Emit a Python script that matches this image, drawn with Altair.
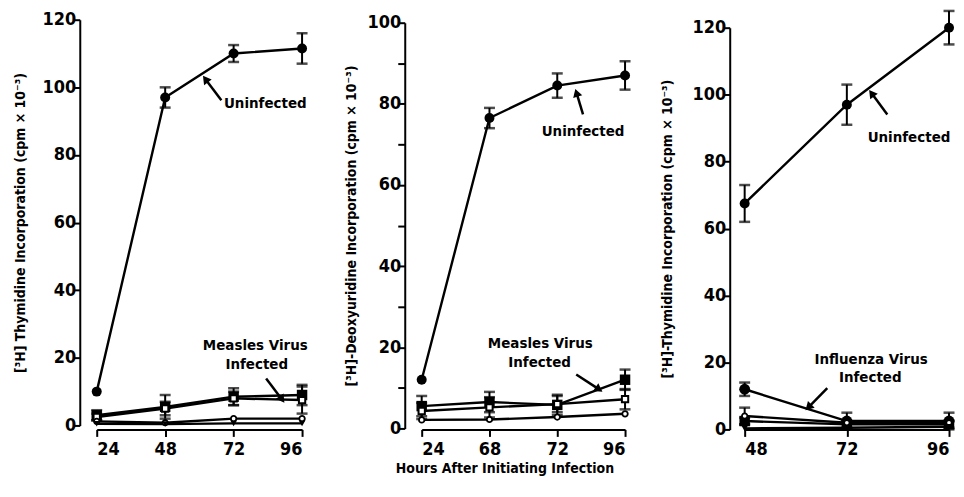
import altair as alt
import pandas as pd

LABEL_FONT = "DejaVu Sans Condensed"
TITLE_FONT = "DejaVu Sans Condensed"

# ---------------- data ----------------
# Panel A: [3H] thymidine, measles
a_hours = [24, 48, 72, 96]
a_uninf = [10, 97, 110, 111.5]
a_uninf_err = [0, 3, 2.5, 4.5]
a_meas_fsq = [3, 5.5, 8.5, 9]
a_meas_fsq_err = [1.5, 3.5, 2.5, 3]
a_meas_osq = [2.5, 5, 8, 7.5]
a_meas_osq_err = [1, 2, 2, 4]
a_meas_oci = [1.2, 0.8, 2, 2]
a_meas_tri = [0.5, 0.4, 0.6, 0.6]

# Panel B: [3H] deoxyuridine, measles (x categories equally spaced)
b_labels = ["24", "68", "72", "96"]
b_uninf = [12, 76.5, 84.5, 87]
b_uninf_err = [0, 2.5, 3, 3.5]
b_meas_fsq = [5.5, 6.5, 5.8, 12]
b_meas_fsq_err = [2.5, 2.5, 2.5, 2.5]
b_meas_osq = [4.3, 5.2, 6, 7.2]
b_meas_osq_err = [2, 2.5, 2, 2.5]
b_meas_oci = [2.1, 2.2, 2.8, 3.6]

# Panel C: [3H] thymidine, influenza
c_hours = [48, 72, 96]
c_uninf = [67.5, 97, 120]
c_uninf_err = [5.5, 6, 5]
c_flu_fci = [12, 2.5, 2.5]
c_flu_fci_err = [2, 2.5, 2.5]
c_flu_oci = [4, 2, 2]
c_flu_oci_err = [2.5, 0, 0]
c_flu_fsq = [2.5, 1.5, 1.5]
c_flu_fsq_err = [1, 1, 1]
c_flu_tri = [0.3, 0.5, 0.8]


def frame(xs, series):
    rows = []
    for key, ys, errs in series:
        for i, (x, y) in enumerate(zip(xs, ys)):
            e = errs[i] if errs else 0
            rows.append({"x": x, "s": key, "y": y, "err": e})
    return pd.DataFrame(rows)


dfA = frame(a_hours, [("uninf", a_uninf, a_uninf_err), ("fsq", a_meas_fsq, a_meas_fsq_err),
                      ("osq", a_meas_osq, a_meas_osq_err), ("oci", a_meas_oci, None),
                      ("tri", a_meas_tri, None)])
dfB = frame(list(range(len(b_labels))), [("uninf", b_uninf, b_uninf_err), ("fsq", b_meas_fsq, b_meas_fsq_err),
                                         ("osq", b_meas_osq, b_meas_osq_err), ("oci", b_meas_oci, None)])
dfC = frame(c_hours, [("uninf", c_uninf, c_uninf_err), ("fci", c_flu_fci, c_flu_fci_err),
                      ("oci", c_flu_oci, c_flu_oci_err), ("fsq", c_flu_fsq, c_flu_fsq_err),
                      ("tri", c_flu_tri, None)])

# marker styles per series key
STYLES = {
    "uninf": dict(shape="circle", filled=True, size=100, color="black"),
    "fci": dict(shape="circle", filled=True, size=120, color="black"),
    "fsq": dict(shape="square", filled=True, size=110, color="black"),
    "osq": dict(shape="square", filled=False, size=40, color="black", fill="white", fillOpacity=1, strokeWidth=2),
    "oci": dict(shape="circle", filled=False, size=30, color="black", fill="white", fillOpacity=1, strokeWidth=1.8),
    "tri": dict(shape="triangle-down", filled=True, size=40, color="black"),
}

H = 411


def panel(df, x_enc, y_scale, y_values, y_label_expr, y_title, y_title_pad, y_offset,
          width, texts, arrows):
    kw = dict(values=y_values, title=y_title, offset=y_offset, tickSize=7, tickWidth=2,
              domainWidth=2, labelFontSize=18, labelFont=LABEL_FONT, labelFontWeight="bold",
              labelPadding=-3, titleFont=TITLE_FONT, titleFontSize=14, titleFontWeight="bold",
              titlePadding=y_title_pad, grid=False,
              domainColor="black", tickColor="black", labelColor="black", titleColor="black")
    if y_label_expr:
        kw["labelExpr"] = y_label_expr
    y_axis = alt.Axis(**kw)
    Y = lambda f: alt.Y(f, type="quantitative", scale=y_scale, axis=y_axis)
    base = alt.Chart(df)
    lines = base.mark_line(color="black", strokeWidth=2.4).encode(x=x_enc, y=Y("y"), detail="s:N")
    eb = base.transform_filter("datum.err > 0").transform_calculate(
        lo="datum.y - datum.err", hi="datum.y + datum.err")
    rules = eb.mark_rule(color="black", strokeWidth=2).encode(x=x_enc, y=Y("lo"), y2="hi:Q")
    cap_lo = eb.mark_tick(color="black", orient="horizontal", thickness=2.5, size=11).encode(x=x_enc, y=Y("lo"))
    cap_hi = eb.mark_tick(color="black", orient="horizontal", thickness=2.5, size=11).encode(x=x_enc, y=Y("hi"))
    layers = [lines, rules, cap_lo, cap_hi]
    present = set(df["s"])
    for key in ["uninf", "fci", "fsq", "osq", "oci", "tri"]:
        if key in present:
            st = STYLES[key]
            layers.append(base.transform_filter(f"datum.s == '{key}'").mark_point(opacity=1, **st)
                          .encode(x=x_enc, y=Y("y")))
    for txt, tx, ty in texts:
        layers.append(alt.Chart().mark_text(font=LABEL_FONT, fontSize=15, fontWeight="bold",
                                            color="black", align="center", baseline="middle")
                      .encode(x=alt.datum(tx), y=alt.datum(ty), text=alt.value(txt)))
    for (tx, ty, hx, hy, ang) in arrows:
        layers.append(alt.Chart().mark_rule(color="black", strokeWidth=2.5)
                      .encode(x=alt.datum(tx), y=alt.datum(ty), x2=alt.datum(hx), y2=alt.datum(hy)))
        layers.append(alt.Chart().mark_point(shape="triangle", filled=True, size=90, angle=ang,
                                             color="black", opacity=1)
                      .encode(x=alt.datum(hx), y=alt.datum(hy)))
    return alt.layer(*layers).properties(width=width, height=H)


def x_axis(values, label_expr=None, title=None, offset=0, **extra):
    kw = dict(values=values, offset=offset, tickSize=7, tickWidth=2, domainWidth=2,
              labelFontSize=18, labelFont=LABEL_FONT, labelFontWeight="bold", labelPadding=4,
              grid=False, domainColor="black", tickColor="black", labelColor="black",
              titleFont=TITLE_FONT, titleFontSize=14, titleFontWeight="bold", titleColor="black")
    kw["title"] = title
    if label_expr:
        kw["labelExpr"] = label_expr
    kw.update(extra)
    return alt.Axis(**kw)


xA = alt.X("x:Q", scale=alt.Scale(domain=[24, 96], nice=False, zero=False), axis=x_axis(a_hours))
b_expr = "[" + ",".join(f"'{l}'" for l in b_labels) + "][datum.value]"
xB = alt.X("x:Q", scale=alt.Scale(domain=[0, 3], nice=False, zero=False),
           axis=x_axis([0, 1, 2, 3], b_expr, "Hours After Initiating Infection",
                       titleX=83, titleY=32, titleBaseline="top", titleAlign="center"))
xC = alt.X("x:Q", scale=alt.Scale(domain=[48, 96], nice=False, zero=False), axis=x_axis(c_hours))

pA = panel(dfA, xA, alt.Scale(domain=[0, 120], nice=False, range=[407, 0]), [0, 20, 40, 60, 80, 100, 120], None,
           "[³H] Thymidine Incorporation (cpm × 10⁻³)", 15, 17, 206,
           [("Uninfected", 83.1, 95.4), ("Measles Virus", 79.6, 23.7), ("Infected", 80.1, 18.1)],
           [(67.7, 96.2, 62.4, 102.1, 323), (83.4, 13.9, 88.7, 8.0, 145)])
pB = panel(dfB, xB, alt.Scale(domain=[0, 100], nice=False, range=[410, 3]), list(range(0, 101, 10)),
           "datum.value % 20 == 0 ? datum.label : ''",
           "[³H]-Deoxyuridine Incorporation (cpm × 10⁻³)", 9, 17, 204,
           [("Uninfected", 2.38, 73.2), ("Measles Virus", 1.75, 21.0), ("Infected", 1.74, 16.4)],
           [(2.38, 77.4, 2.29, 82.4, 343), (2.28, 13.3, 2.60, 9.8, 124)])
pC = panel(dfC, xC, alt.Scale(domain=[0, 120], nice=False, range=[411, 8]), [0, 20, 40, 60, 80, 100, 120], None,
           "[³H]-Thymidine Incorporation (cpm × 10⁻³)", 18, 15, 205,
           [("Uninfected", 86.6, 87.3), ("Influenza Virus", 77.7, 21.1), ("Infected", 77.5, 15.7)],
           [(81.5, 94.1, 78.0, 100.1, 323), (67.4, 12.3, 63.2, 6.9, 225)])

chart = alt.hconcat(pA, pB, pC, spacing=120, bounds="flush").properties(
    padding={"left": 5, "top": 0, "right": 0, "bottom": 5}
).configure(background="white").configure_view(stroke=None, strokeWidth=0)

chart.save("out.html", embed_options={"renderer": "svg", "actions": False})
